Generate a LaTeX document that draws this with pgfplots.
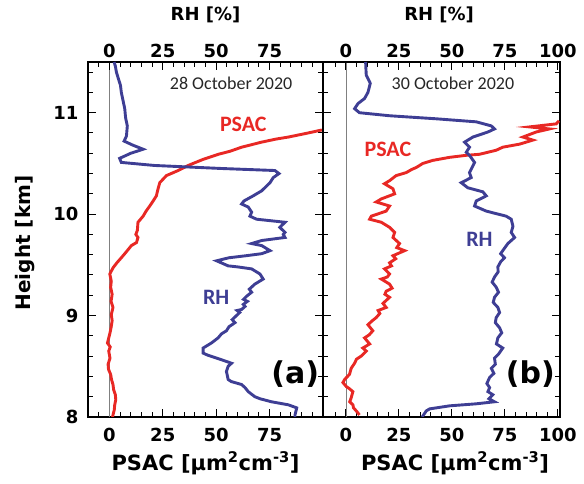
\documentclass[border=0pt]{standalone}
\usepackage{fontspec}
\setmainfont{DejaVu Sans}
\newfontfamily\carlito{Carlito}
\usepackage{pgfplots}
\pgfplotsset{compat=1.18}

\definecolor{psacred}{RGB}{232,40,36}
\definecolor{rhblue}{RGB}{62,62,148}

\pgfplotsset{
  panel/.style={
    scale only axis, height=355pt,
    ymin=8, ymax=11.5,
    ytick={8,9,10,11},
    minor ytick={8.2,8.4,8.6,8.8,9.2,9.4,9.6,9.8,10.2,10.4,10.6,10.8,11.2,11.4},
    minor xtick={-5,5,10,15,20,30,35,40,45,55,60,65,70,80,85,90,95},
    tick align=inside, major tick length=8pt, minor tick length=5pt,
    axis line style={line width=1.2pt},
    every tick/.style={line width=1pt, black},
    /pgf/number format/assume math mode=true,
    tick label style={font=\bfseries\fontsize{18}{18}\selectfont},
  },
  bottomax/.style={
    xtick pos=left,
    xticklabel style={yshift=-8pt},
    xlabel style={at={(axis description cs:#1,0)}, anchor=center, yshift=-46pt,
      font=\bfseries\fontsize{21}{21}\selectfont},
    xlabel={PSAC [μm\textsuperscript{2}cm\textsuperscript{-3}]},
  },
  topax/.style={
    axis x line*=top, axis y line=none,
    xticklabel style={yshift=1pt},
    xlabel style={at={(axis description cs:#1,1)}, anchor=center, yshift=47pt,
      font=\bfseries\fontsize{18}{18}\selectfont},
    xlabel={RH [\%]},
  },
  psac/.style={psacred, line width=2.9pt},
  rh/.style={rhblue, line width=2.9pt},
  zero/.style={gray, line width=0.7pt},
}
\tikzset{
  date/.style={font=\carlito\fontsize{18}{18}\selectfont, black!85},
  tag/.style={font=\carlito\bfseries\fontsize{22}{22}\selectfont},
  letter/.style={font=\bfseries\fontsize{30}{30}\selectfont},
}

\begin{document}
\begin{tikzpicture}
\path[use as bounding box] (-88pt,-67pt) rectangle (496pt,417pt);

% ---- panel (a): 28 October 2020
\begin{axis}[panel, bottomax=0.5, at={(0pt,0pt)}, anchor=south west,
  width=235pt, xmin=-10, xmax=100, xtick={0,25,50,75},
  yticklabel style={xshift=-6pt},
  ylabel={Height [km]},
  ylabel style={at={(axis description cs:-0.268,0.49)}, anchor=center,
    font=\bfseries\fontsize{20}{20}\selectfont}]
\addplot[zero] coordinates {(0,8) (0,11.5)};
\addplot[psac] coordinates {
(1.5,8.00) (1.7,8.02) (2.3,8.07) (2.5,8.12) (3.0,8.17) (2.8,8.22) (2.0,8.27)
(1.7,8.32) (1.0,8.37) (0.6,8.42) (-0.4,8.47) (-0.6,8.52) (0.3,8.58)
(-0.3,8.65) (0.4,8.69) (-0.9,8.73) (0.2,8.82) (0.8,8.88) (1.3,8.95)
(0.9,9.01) (1.7,9.08) (0.8,9.14) (1.3,9.21) (0.6,9.28) (0.9,9.34)
(0.2,9.41) (1.7,9.47) (3.5,9.52) (5.6,9.57) (8.0,9.63) (10.3,9.69)
(12.7,9.72) (13.4,9.77) (12.4,9.80) (13.1,9.84) (13.4,9.92) (15.8,9.98)
(17.2,10.03) (18.9,10.08) (20.5,10.13) (22.0,10.18) (22.8,10.25)
(23.6,10.31) (26.7,10.38) (32.2,10.43) (36.9,10.48) (43.9,10.54)
(51.0,10.59) (56.5,10.62) (61.9,10.66) (71.3,10.71) (78.0,10.74)
(83.8,10.76) (93.0,10.80) (99.5,10.83)
};
\end{axis}
\begin{axis}[panel, topax=0.5, at={(0pt,0pt)}, anchor=south west,
  width=235pt, xmin=-10, xmax=100, xtick={0,25,50,75}]
\addplot[rh] coordinates {
(86.9,8.00) (86.9,8.02) (87.7,8.09) (83.8,8.12) (75.9,8.15) (70.5,8.18)
(68.1,8.20) (65.0,8.25) (63.5,8.29) (61.9,8.32) (57.0,8.35) (55.6,8.37)
(54.8,8.45) (55.6,8.50) (57.2,8.53) (51.7,8.57) (46.0,8.61) (43.9,8.63)
(43.9,8.68) (47.8,8.73) (50.9,8.78) (52.5,8.82) (54.8,8.85) (56.0,8.89)
(58.8,8.93) (57.5,8.96) (59.5,9.00) (61.0,9.03) (59.8,9.05) (61.9,9.06)
(63.5,9.09) (62.7,9.11) (64.6,9.14) (62.8,9.16) (64.2,9.19) (66.6,9.23)
(65.5,9.26) (68.1,9.31) (72.0,9.36) (70.5,9.41) (66.6,9.46) (60.0,9.48)
(55.6,9.49) (50.2,9.54) (56.0,9.57) (64.0,9.59) (71.3,9.61) (75.2,9.64)
(71.3,9.69) (66.6,9.71) (71.3,9.74) (82.2,9.77) (81.4,9.80) (82.2,9.82)
(79.8,9.87) (82.2,9.92) (68.9,9.95) (65.8,9.98) (66.6,10.02) (65.0,10.07)
(61.9,10.10) (63.0,10.13) (67.3,10.18) (71.3,10.23) (75.2,10.31)
(76.7,10.36) (79.4,10.40) (77.5,10.43) (52.5,10.45) (21.0,10.48)
(5.6,10.51) (4.8,10.55) (10.0,10.60) (15.8,10.64) (11.0,10.68)
(6.9,10.72) (8.0,10.77) (8.4,10.87) (7.6,10.95) (7.2,11.04) (5.6,11.20)
(5.2,11.27) (4.3,11.33) (3.3,11.40) (2.8,11.46) (2.2,11.50)
};
\node[date] at (axis cs:57,11.29) {28 October 2020};
\node[tag, psacred] at (axis cs:62.7,10.89) {PSAC};
\node[tag, rhblue] at (axis cs:50,9.18) {RH};
\node[letter] at (axis cs:87,8.42) {(a)};
\end{axis}

% ---- panel (b): 30 October 2020
\begin{axis}[panel, bottomax=0.557, at={(235pt,0pt)}, anchor=south west,
  width=237pt, xmin=-10.8, xmax=101, xtick={0,25,50,75,100},
  yticklabels={}]
\addplot[zero] coordinates {(0,8) (0,11.5)};
\addplot[psac] coordinates {
(6.4,8.02) (4.9,8.06) (3.6,8.09) (3.3,8.12) (1.8,8.15) (2.5,8.19)
(3.3,8.25) (1.6,8.28) (0.2,8.30) (-1.4,8.34) (-0.6,8.37) (1.7,8.42)
(2.5,8.48) (4.1,8.53) (5.0,8.57) (7.2,8.60) (9.6,8.65) (8.0,8.68)
(11.2,8.72) (8.8,8.78) (11.0,8.81) (12.7,8.85) (10.4,8.91) (12.5,8.95)
(14.3,8.98) (16.0,9.02) (15.2,9.05) (19.0,9.08) (17.5,9.12) (20.6,9.18)
(18.4,9.21) (19.0,9.24) (21.8,9.27) (20.6,9.31) (16.7,9.36) (19.5,9.38)
(20.6,9.41) (18.2,9.46) (21.5,9.49) (20.6,9.52) (23.5,9.56) (22.2,9.59)
(27.7,9.64) (24.0,9.67) (25.3,9.71) (22.2,9.77) (23.0,9.82) (20.6,9.87)
(16.7,9.92) (11.2,9.95) (12.0,9.98) (19.0,10.03) (20.6,10.08)
(14.3,10.12) (16.7,10.15) (23.0,10.20) (22.2,10.25) (18.2,10.30)
(20.6,10.33) (23.7,10.38) (28.5,10.41) (31.0,10.44) (33.2,10.46)
(36.3,10.50) (41.0,10.53) (48.9,10.56) (56.8,10.58) (63.0,10.59)
(70.9,10.63) (74.0,10.66) (81.9,10.69) (88.2,10.73) (83.5,10.76)
(89.8,10.81) (96.0,10.84) (86.6,10.86) (99.2,10.89) (100.5,10.92)
};
\end{axis}
\begin{axis}[panel, topax=0.49, at={(235pt,0pt)}, anchor=south west,
  width=237pt, xmin=-10.8, xmax=101, xtick={0,25,50,75,100}]
\addplot[rh] coordinates {
(36.0,8.00) (36.3,8.01) (37.9,8.06) (39.5,8.08) (48.9,8.11) (61.5,8.13)
(70.1,8.15) (67.5,8.18) (69.3,8.22) (67.0,8.25) (67.8,8.29) (66.5,8.33)
(67.8,8.39) (69.8,8.43) (68.6,8.48) (70.5,8.52) (70.1,8.58) (72.0,8.62)
(74.0,8.68) (71.0,8.72) (71.7,8.78) (73.5,8.83) (72.5,8.88) (70.5,8.93)
(70.9,8.98) (72.5,9.03) (71.7,9.08) (69.5,9.13) (70.1,9.18) (72.0,9.23)
(70.9,9.28) (69.0,9.33) (70.1,9.38) (71.8,9.43) (71.7,9.48) (73.0,9.53)
(74.8,9.57) (73.0,9.61) (74.0,9.64) (76.4,9.71) (79.6,9.77) (78.0,9.82)
(78.8,9.88) (78.0,9.95) (75.6,9.98) (66.2,10.03) (60.7,10.08)
(61.5,10.13) (66.2,10.18) (64.6,10.22) (57.5,10.26) (54.4,10.31)
(59.1,10.36) (58.3,10.41) (60.7,10.51) (58.3,10.58) (56.8,10.61)
(58.3,10.66) (56.0,10.71) (59.9,10.76) (67.0,10.81) (70.1,10.84)
(68.6,10.87) (61.5,10.91) (42.6,10.94) (20.6,10.97) (6.4,11.00)
(4.1,11.04) (5.7,11.09) (8.8,11.14) (10.4,11.20) (11.5,11.29)
(9.6,11.37) (9.3,11.50)
};
\node[date] at (axis cs:50.5,11.29) {30 October 2020};
\node[tag, psacred] at (axis cs:19.8,10.64) {PSAC};
\node[tag, rhblue] at (axis cs:63,9.75) {RH};
\node[letter] at (axis cs:87,8.42) {(b)};
\end{axis}
\end{tikzpicture}
\end{document}
